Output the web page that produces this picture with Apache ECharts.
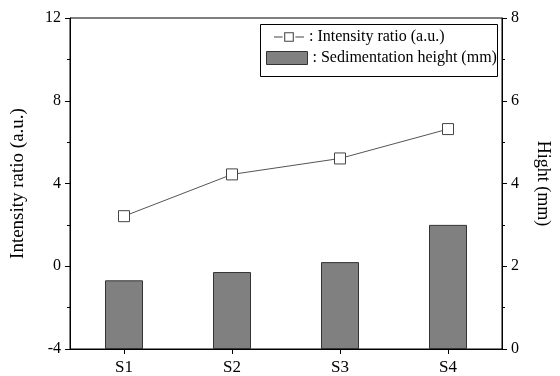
<!DOCTYPE html>
<html>
<head>
<meta charset="utf-8">
<script src="https://cdn.jsdelivr.net/npm/echarts@6/dist/echarts.min.js"></script>
<style>
  html, body { margin: 0; padding: 0; background: #fff; }
  #chart { width: 560px; height: 376px; }
</style>
</head>
<body>
<div id="chart"></div>
<script>
// Samples along the x axis
const categories = ['S1', 'S2', 'S3', 'S4'];
// Intensity ratio (left axis, a.u.)
const intensityRatio = [2.42, 4.44, 5.21, 6.63];
// Sedimentation height (right axis, mm)
const sedimentationHeight = [1.66, 1.86, 2.10, 3.00];
// Axis tick settings
const leftAxisRange = { min: -4, max: 12, interval: 4 };
const rightAxisRange = { min: 0, max: 8, interval: 2 };

const FONT = "'Liberation Serif', 'Times New Roman', serif";
const LINE_NAME = 'Intensity ratio (a.u.)';
const BAR_NAME = 'Sedimentation height (mm)';

// Legend glyph for the line series: dash, hollow square, dash
const lineLegendIcon = 'path://M0,4H8V5H0Z M9.5,0H18.5V9H9.5Z M10.5,1V8H17.5V1Z M20,4H28V5H20Z';

const chart = echarts.init(document.getElementById('chart'), null, { renderer: 'canvas' });

const axisLineStyle = { show: true, onZero: false, lineStyle: { color: '#000', width: 1 } };

chart.setOption({
  animation: false,
  backgroundColor: '#fff',
  textStyle: { fontFamily: FONT, color: '#000' },
  grid: {
    left: 70, right: 58, top: 18, bottom: 27,
    show: true, borderColor: '#000', borderWidth: 1, backgroundColor: 'transparent'
  },
  graphic: [{
    type: 'rect',
    shape: { x: 260.5, y: 24.5, width: 237, height: 52 },
    style: { fill: 'none', stroke: '#000', lineWidth: 1 },
    z: 10
  }],
  legend: [{
    data: [{
      name: LINE_NAME,
      icon: lineLegendIcon,
      itemStyle: { color: '#444', borderWidth: 0 }
    }],
    left: 274, top: 29, padding: 0,
    itemWidth: 30, itemHeight: 10,
    formatter: n => ': ' + n,
    textStyle: { fontFamily: FONT, fontSize: 16, color: '#000' },
    selectedMode: false
  }, {
    data: [{ name: BAR_NAME, itemStyle: { borderColor: '#333', borderWidth: 1 } }],
    icon: 'rect',
    left: 266, top: 50, padding: 0,
    itemWidth: 41, itemHeight: 13,
    formatter: n => ': ' + n,
    textStyle: { fontFamily: FONT, fontSize: 16, color: '#000' },
    selectedMode: false
  }],
  xAxis: {
    type: 'category',
    data: categories,
    axisLine: axisLineStyle,
    axisTick: { show: true, alignWithLabel: true, length: 5, lineStyle: { color: '#000' } },
    axisLabel: { fontFamily: FONT, fontSize: 17, color: '#000', margin: 10 },
    splitLine: { show: false }
  },
  yAxis: [{
    type: 'value',
    position: 'left',
    min: leftAxisRange.min, max: leftAxisRange.max, interval: leftAxisRange.interval,
    name: LINE_NAME,
    nameLocation: 'middle',
    nameGap: 42,
    nameTextStyle: { fontFamily: FONT, fontSize: 19, color: '#000' },
    axisLine: axisLineStyle,
    axisTick: { show: true, length: 5, lineStyle: { color: '#000' } },
    minorTick: { show: true, splitNumber: 2, length: 3, lineStyle: { color: '#000' } },
    axisLabel: { fontFamily: FONT, fontSize: 16, color: '#000', margin: 9 },
    splitLine: { show: false }
  }, {
    type: 'value',
    position: 'right',
    min: rightAxisRange.min, max: rightAxisRange.max, interval: rightAxisRange.interval,
    name: 'Hight (mm)',
    nameLocation: 'middle',
    nameGap: 32,
    nameRotate: -90,
    nameTextStyle: { fontFamily: FONT, fontSize: 18, color: '#000' },
    axisLine: axisLineStyle,
    axisTick: { show: true, length: 5, lineStyle: { color: '#000' } },
    minorTick: { show: true, splitNumber: 2, length: 3, lineStyle: { color: '#000' } },
    axisLabel: { fontFamily: FONT, fontSize: 16, color: '#000', margin: 9 },
    splitLine: { show: false }
  }],
  series: [{
    name: BAR_NAME,
    type: 'bar',
    yAxisIndex: 1,
    data: sedimentationHeight,
    barWidth: 38,
    itemStyle: { color: '#808080', borderColor: '#333', borderWidth: 1 }
  }, {
    // white halo that opens a small gap where the line meets each marker
    name: 'halo',
    type: 'scatter',
    yAxisIndex: 0,
    data: intensityRatio,
    symbol: 'square',
    symbolSize: 16,
    itemStyle: { color: '#fff' },
    silent: true
  }, {
    name: LINE_NAME,
    type: 'line',
    yAxisIndex: 0,
    data: intensityRatio,
    symbol: 'square',
    symbolSize: 11,
    lineStyle: { color: '#555', width: 1 },
    itemStyle: { color: '#fff', borderColor: '#444', borderWidth: 1 }
  }]
});
</script>
</body>
</html>
